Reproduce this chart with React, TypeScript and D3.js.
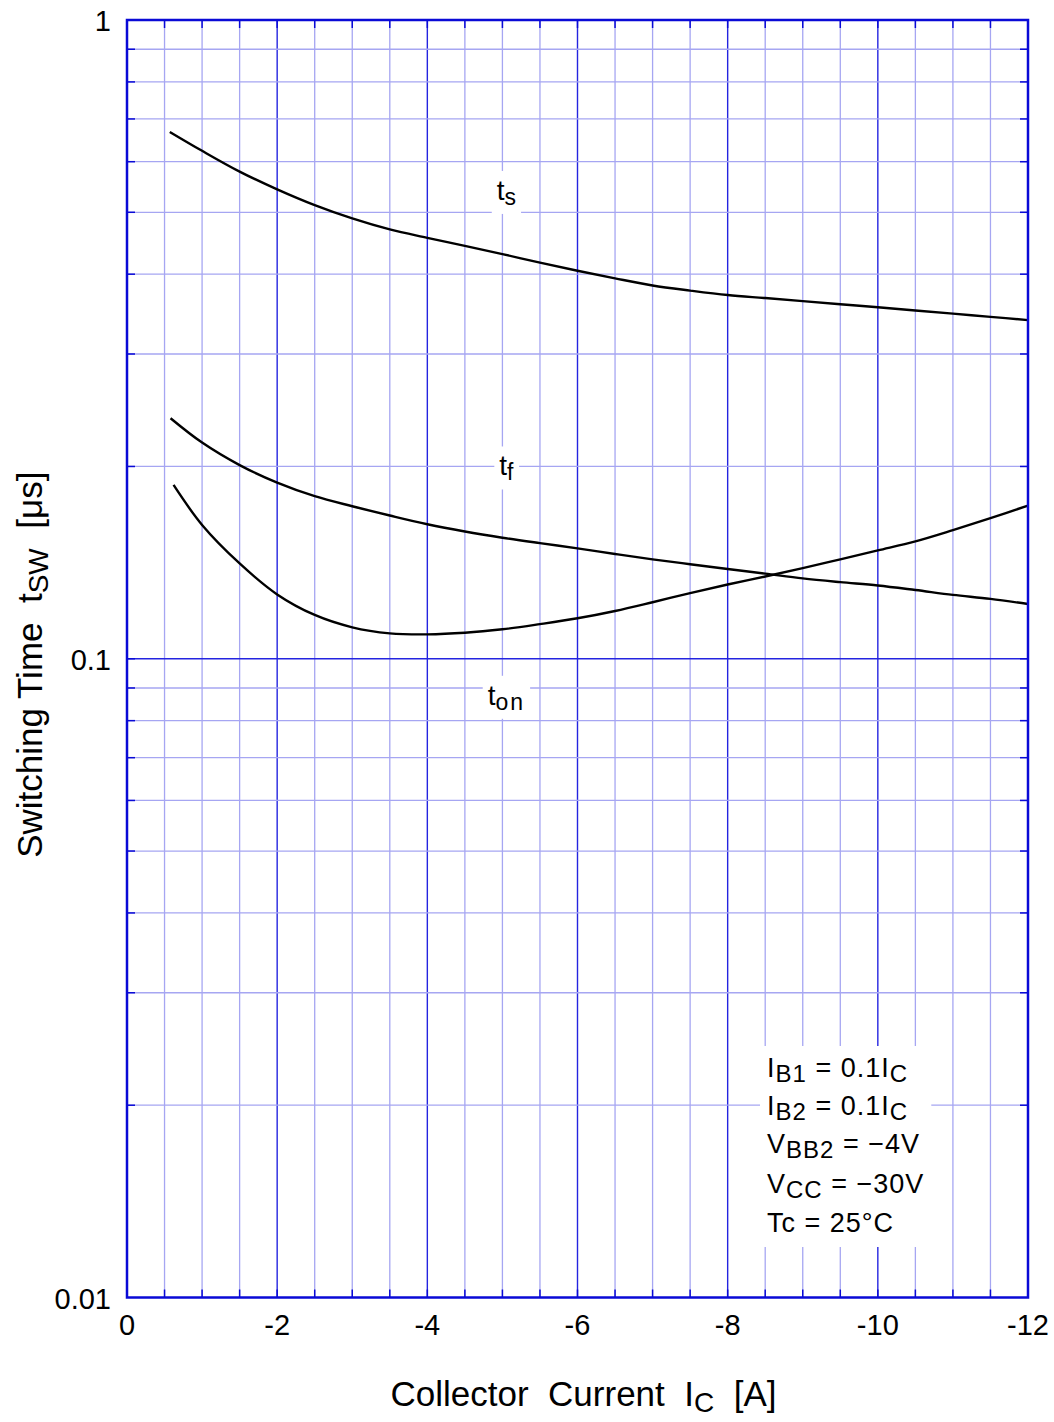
import React, { useEffect, useRef } from 'react';
import * as d3 from 'd3';

// Collector current [A] (x) and switching time [µs] (y)
const tsCurrent = [-0.57, -1, -1.5, -2, -2.5, -3, -3.5, -4, -4.5, -5, -5.5, -6, -6.5, -7, -7.5, -8, -8.5, -9, -9.5, -10, -10.5, -11, -11.5, -12];
const tsTime = [0.668, 0.624, 0.579, 0.543, 0.513, 0.489, 0.470, 0.456, 0.443, 0.430, 0.417, 0.405, 0.394, 0.384, 0.377, 0.371, 0.367, 0.363, 0.359, 0.355, 0.351, 0.347, 0.343, 0.339];

const tfCurrent = [-0.58, -1, -1.5, -2, -2.5, -3, -3.5, -4, -4.5, -5, -5.5, -6, -6.5, -7, -7.5, -8, -8.5, -9, -9.5, -10, -10.5, -11, -11.5, -12];
const tfTime = [0.238, 0.218, 0.201, 0.1887, 0.1797, 0.1733, 0.1676, 0.1624, 0.1582, 0.1547, 0.1517, 0.1489, 0.1459, 0.1431, 0.1406, 0.1382, 0.1359, 0.1336, 0.1318, 0.1302, 0.1281, 0.1259, 0.1241, 0.1218];

const tonCurrent = [-0.62, -1, -1.5, -2, -2.5, -3, -3.5, -4, -4.5, -5, -5.5, -6, -6.5, -7, -7.5, -8, -8.5, -9, -9.5, -10, -10.5, -11, -11.5, -12];
const tonTime = [0.1871, 0.1620, 0.1410, 0.1261, 0.1171, 0.1120, 0.1096, 0.1092, 0.1098, 0.1112, 0.1133, 0.1157, 0.1188, 0.1226, 0.1267, 0.1307, 0.1345, 0.1386, 0.1431, 0.1478, 0.1527, 0.1590, 0.1660, 0.1737];

const xTicks = [0, -2, -4, -6, -8, -10, -12];
const yTicks = [1, 0.1, 0.01];
const yTickLabels = ['1', '0.1', '0.01'];

const conditions = [
  [['I', ''], ['B1', 'sub'], [' = 0.1I', ''], ['C', 'sub']],
  [['I', ''], ['B2', 'sub'], [' = 0.1I', ''], ['C', 'sub']],
  [['V', ''], ['BB2', 'sub'], [' = \u22124V', '']],
  [['V', ''], ['CC', 'sub'], [' = \u221230V', '']],
  [['Tc = 25\u00B0C', '']],
];

const W = 1054;
const H = 1422;
const FONT = '"Liberation Sans", Arial, sans-serif';
const MINOR = '#a6a6f2';
const MAJOR = '#2424e0';
const FRAME = '#0a0ad6';

const App: React.FC = () => {
  const svgRef = useRef<SVGSVGElement>(null);

  useEffect(() => {
    if (!svgRef.current) return;
    const svg = d3.select(svgRef.current);
    svg.selectAll('*').remove();

    const x = d3.scaleLinear().domain([0, -12]).range([127, 1028]);
    const y = d3.scaleLog().domain([0.01, 1]).range([1297.5, 20]);
    const [x0, x1] = x.range();
    const [y0, y1] = y.range();

    const g = svg.append('g');

    // vertical grid every 0.5 A, darker every 2 A
    const xGrid = d3.range(1, 24).map(i => -i * 0.5);
    xGrid.forEach(v => {
      const major = v % 2 === 0;
      g.append('line')
        .attr('x1', x(v)).attr('x2', x(v))
        .attr('y1', y1).attr('y2', y0)
        .attr('stroke', major ? MAJOR : MINOR)
        .attr('stroke-width', major ? 1.4 : 1.3);
    });

    // horizontal log grid
    const yGrid: number[] = [];
    [0.01, 0.1].forEach(d => {
      for (let k = 1; k <= 9; k++) yGrid.push(d * k);
    });
    yGrid.forEach(v => {
      if (v <= 0.0100001) return;
      const major = Math.abs(v - 0.1) < 1e-9;
      g.append('line')
        .attr('x1', x0).attr('x2', x1)
        .attr('y1', y(v)).attr('y2', y(v))
        .attr('stroke', major ? MAJOR : MINOR)
        .attr('stroke-width', major ? 1.4 : 1.3);
    });

    // inward ticks on all sides
    const tl = 8;
    xGrid.forEach(v => {
      g.append('line').attr('x1', x(v)).attr('x2', x(v)).attr('y1', y0).attr('y2', y0 - tl)
        .attr('stroke', FRAME).attr('stroke-width', 1.5);
      g.append('line').attr('x1', x(v)).attr('x2', x(v)).attr('y1', y1).attr('y2', y1 + tl)
        .attr('stroke', FRAME).attr('stroke-width', 1.5);
    });
    yGrid.forEach(v => {
      if (v <= 0.0100001) return;
      g.append('line').attr('x1', x0).attr('x2', x0 + tl).attr('y1', y(v)).attr('y2', y(v))
        .attr('stroke', FRAME).attr('stroke-width', 1.5);
      g.append('line').attr('x1', x1).attr('x2', x1 - tl).attr('y1', y(v)).attr('y2', y(v))
        .attr('stroke', FRAME).attr('stroke-width', 1.5);
    });

    // curves
    const line = d3.line<[number, number]>()
      .x(d => x(d[0]))
      .y(d => y(d[1]))
      .curve(d3.curveCatmullRom.alpha(0.5));

    const series: [number[], number[]][] = [
      [tsCurrent, tsTime],
      [tfCurrent, tfTime],
      [tonCurrent, tonTime],
    ];
    series.forEach(([xs, ys]) => {
      g.append('path')
        .datum(xs.map((v, i) => [v, ys[i]] as [number, number]))
        .attr('d', line)
        .attr('fill', 'none')
        .attr('stroke', '#000')
        .attr('stroke-width', 2.4)
        .attr('stroke-linejoin', 'round');
    });

    // curve labels with white backing
    const curveLabels: { main: string; sub: string; at: [number, number] }[] = [
      { main: 't', sub: 's', at: [-5, 0.54] },
      { main: 't', sub: 'f', at: [-5, 0.2] },
      { main: 't', sub: 'on', at: [-5, 0.0875] },
    ];
    curveLabels.forEach(l => {
      const lg = g.append('g');
      const bg = lg.append('rect').attr('fill', '#fff');
      const t = lg.append('text')
        .attr('x', x(l.at[0]) + 4)
        .attr('y', y(l.at[1]) + 9)
        .attr('text-anchor', 'middle')
        .attr('font-family', FONT)
        .attr('font-size', 28)
        .attr('fill', '#000');
      t.append('tspan').text(l.main);
      t.append('tspan').attr('dy', 5).attr('font-size', 23)
        .attr('letter-spacing', l.sub.length > 1 ? 2 : 0).text(l.sub);
      const b = (t.node() as SVGTextElement).getBBox();
      bg.attr('x', b.x - 5).attr('y', b.y - 4).attr('width', b.width + 10).attr('height', b.height + 8);
    });

    // conditions box
    const cg = g.append('g');
    const cbg = cg.append('rect').attr('fill', '#fff');
    const lx = 767;
    const baselines = [1077, 1115, 1153, 1193, 1232];
    conditions.forEach((row, i) => {
      const t = cg.append('text')
        .attr('x', lx).attr('y', baselines[i])
        .attr('font-family', FONT).attr('font-size', 27)
        .attr('letter-spacing', 1).attr('fill', '#000');
      let shifted = false;
      row.forEach(([s, kind]) => {
        const sp = t.append('tspan').text(s);
        if (kind === 'sub') {
          sp.attr('font-size', 24).attr('dy', shifted ? 0 : 5);
          shifted = true;
        } else {
          sp.attr('dy', shifted ? -5 : 0);
          shifted = false;
        }
      });
    });
    const cb = (cg.node() as SVGGElement).getBBox();
    cbg.attr('x', cb.x - 7).attr('y', cb.y - 7).attr('width', cb.width + 14).attr('height', cb.height + 16);

    // frame
    g.append('rect')
      .attr('x', x0).attr('y', y1)
      .attr('width', x1 - x0).attr('height', y0 - y1)
      .attr('fill', 'none')
      .attr('stroke', FRAME)
      .attr('stroke-width', 2.5);

    // tick labels
    xTicks.forEach(v => {
      g.append('text')
        .attr('x', x(v)).attr('y', y0 + 37)
        .attr('text-anchor', 'middle')
        .attr('font-family', FONT).attr('font-size', 29).attr('fill', '#000')
        .text(v === 0 ? '0' : `-${Math.abs(v)}`);
    });
    yTicks.forEach((v, i) => {
      g.append('text')
        .attr('x', 111).attr('y', y(v) + 11)
        .attr('text-anchor', 'end')
        .attr('font-family', FONT).attr('font-size', 29).attr('fill', '#000')
        .text(yTickLabels[i]);
    });

    // axis titles
    const xt = g.append('text')
      .attr('x', (x0 + x1) / 2 + 6).attr('y', 1406)
      .attr('text-anchor', 'middle')
      .attr('font-family', FONT).attr('font-size', 35).attr('fill', '#000')
      .attr('xml:space', 'preserve');
    xt.append('tspan').text('Collector  Current  I');
    xt.append('tspan').attr('font-size', 28).attr('dy', 6).text('C');
    xt.append('tspan').attr('dy', -6).text('  [A]');

    const yt = g.append('text')
      .attr('transform', `translate(42, ${(y0 + y1) / 2 + 6}) rotate(-90)`)
      .attr('text-anchor', 'middle')
      .attr('font-family', FONT).attr('font-size', 35).attr('fill', '#000')
      .attr('xml:space', 'preserve');
    yt.append('tspan').text('Switching Time  t');
    yt.append('tspan').attr('font-size', 28).attr('dy', 6).text('SW');
    yt.append('tspan').attr('dy', -6).text('  [\u03BCs]');
  }, []);

  return (
    <svg
      ref={svgRef}
      width={W}
      height={H}
      style={{ position: 'absolute', left: 0, top: 0, background: '#fff' }}
    />
  );
};

export default App;
